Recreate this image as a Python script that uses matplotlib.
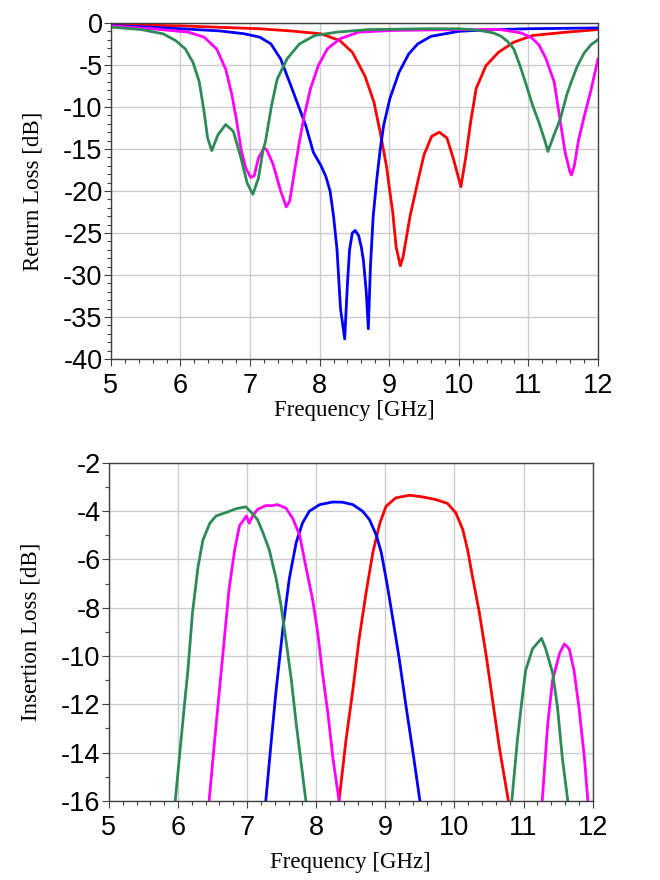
import matplotlib
matplotlib.use("Agg")
import matplotlib.pyplot as plt
from matplotlib.ticker import MultipleLocator

plt.rcParams["axes.unicode_minus"] = False

# ---- return loss (S11), dB ----
f11_green = [5.0, 5.44, 5.75, 5.93, 6.07, 6.18, 6.27, 6.34, 6.39, 6.45, 6.54, 6.65, 6.76, 6.87,
             6.96, 7.04, 7.12, 7.19, 7.22, 7.31, 7.39, 7.53, 7.71, 7.93, 8.25, 8.7, 9.5, 10.0,
             10.3, 10.5, 10.61, 10.7, 10.79, 10.88, 10.97, 11.06, 11.15, 11.24, 11.28, 11.37,
             11.46, 11.55, 11.6, 11.7, 11.8, 11.9, 12.0]
s11_green = [-0.5, -0.8, -1.3, -2.1, -3.1, -4.7, -7.0, -10.6, -13.7, -15.2, -13.3, -12.1, -12.9, -16.1,
             -19.1, -20.4, -18.5, -15.0, -14.2, -9.8, -6.7, -4.3, -2.5, -1.5, -1.1, -0.8, -0.7, -0.7,
             -0.9, -1.2, -1.6, -2.2, -3.1, -5.1, -7.4, -9.8, -11.8, -14.1, -15.3, -13.3,
             -11.4, -8.6, -7.4, -5.2, -3.6, -2.6, -2.0]

f11_magenta = [5.0, 5.66, 6.11, 6.34, 6.52, 6.65, 6.74, 6.81, 6.87, 6.94, 7.01, 7.06, 7.12, 7.2,
               7.24, 7.33, 7.44, 7.52, 7.57, 7.64, 7.71, 7.78, 7.87, 7.98, 8.11, 8.29, 8.56, 9.05,
               10.0, 10.6, 10.9, 11.05, 11.15, 11.25, 11.37, 11.46, 11.53, 11.6, 11.62, 11.66,
               11.72, 11.8, 11.9, 12.0]
s11_magenta = [-0.35, -0.75, -1.1, -1.7, -3.1, -5.5, -8.6, -11.8, -15.0, -17.3, -18.4, -18.2, -16.1, -14.9,
               -15.1, -16.8, -20.0, -21.9, -21.2, -17.6, -14.1, -11.0, -7.8, -5.1, -3.1, -1.9, -1.1, -0.9,
               -0.8, -0.8, -1.2, -1.8, -2.6, -4.2, -7.0, -11.8, -15.5, -17.8, -18.1, -17.0,
               -14.0, -11.2, -8.0, -4.3]

f11_blue = [5.0, 5.89, 6.56, 6.92, 7.14, 7.3, 7.44, 7.57, 7.71, 7.8, 7.91, 8.02, 8.09, 8.15, 8.2,
            8.25, 8.3, 8.36, 8.4, 8.43, 8.47, 8.51, 8.56, 8.6, 8.63, 8.67, 8.7, 8.73, 8.77, 8.82,
            8.87, 8.92, 9.01, 9.14, 9.28, 9.41, 9.6, 10.0, 10.5, 11.0, 12.0]
s11_blue = [-0.3, -0.65, -0.95, -1.3, -1.7, -2.5, -4.3, -7.1, -10.2, -12.2, -15.4, -17.0, -18.3, -20.0, -23.0,
            -27.0, -34.0, -37.6, -31.0, -27.0, -25.0, -24.7, -25.3, -26.7, -28.3, -32.0, -36.4, -29.0, -23.0, -18.7,
            -15.1, -12.2, -9.0, -5.9, -3.7, -2.5, -1.6, -1.0, -0.8, -0.7, -0.6]

f11_red = [5.0, 6.0, 7.13, 7.57, 8.02, 8.29, 8.47, 8.65, 8.78, 8.87, 8.96, 9.0, 9.05, 9.1, 9.16,
           9.2, 9.3, 9.41, 9.5, 9.61, 9.72, 9.83, 9.92, 10.03, 10.1, 10.17, 10.25, 10.39, 10.57,
           10.79, 11.06, 11.55, 12.0]
s11_red = [-0.2, -0.35, -0.7, -0.95, -1.3, -2.1, -3.5, -6.3, -9.4, -13.0, -17.0, -19.5, -22.5, -26.7, -28.9,
           -27.8, -23.0, -18.9, -15.7, -13.5, -13.0, -13.7, -16.1, -19.5, -16.0, -11.8, -7.8, -5.1, -3.5,
           -2.3, -1.5, -1.1, -0.8]

# ---- insertion loss (S21), dB ----
f21_green = [5.96, 6.02, 6.09, 6.14, 6.21, 6.29, 6.36, 6.46, 6.55, 6.7, 6.84, 6.98, 7.06, 7.15, 7.23,
             7.32, 7.42, 7.49, 7.56, 7.64, 7.71, 7.78, 7.85]
s21_green = [-16.0, -14.2, -12.1, -10.7, -8.2, -6.3, -5.2, -4.5, -4.2, -4.05, -3.9, -3.82, -4.05, -4.35, -4.9,
             -5.6, -6.8, -7.9, -9.3, -11.0, -12.8, -14.4, -16.0]
f21_green2 = [10.83, 10.91, 10.99, 11.03, 11.13, 11.26, 11.32, 11.42, 11.49, 11.56, 11.64]
s21_green2 = [-16.0, -13.5, -11.5, -10.6, -9.7, -9.27, -9.7, -10.7, -12.1, -14.2, -16.0]

f21_magenta = [6.45, 6.53, 6.6, 6.67, 6.74, 6.82, 6.89, 6.99, 7.03, 7.08, 7.15, 7.27, 7.37, 7.44, 7.56,
               7.66, 7.76, 7.85, 7.95, 8.02, 8.09, 8.17, 8.24, 8.33]
s21_magenta = [-16.0, -13.5, -11.4, -9.3, -7.2, -5.6, -4.6, -4.2, -4.5, -4.2, -3.93, -3.77, -3.77, -3.73, -3.87,
               -4.3, -5.0, -6.3, -7.7, -9.0, -10.7, -12.4, -14.2, -16.0]
f21_magenta2 = [11.27, 11.35, 11.42, 11.52, 11.59, 11.66, 11.73, 11.8, 11.88, 11.93]
s21_magenta2 = [-16.0, -12.8, -11.0, -9.9, -9.5, -9.7, -10.6, -12.1, -14.2, -16.0]

f21_blue = [7.27, 7.35, 7.42, 7.52, 7.61, 7.71, 7.8, 7.9, 8.05, 8.24, 8.38, 8.53, 8.67, 8.77, 8.87,
            8.94, 9.03, 9.11, 9.2, 9.3, 9.4, 9.5]
s21_blue = [-16.0, -13.5, -11.4, -8.8, -6.8, -5.3, -4.5, -4.0, -3.73, -3.62, -3.63, -3.73, -4.0, -4.35, -5.0,
            -5.7, -7.1, -8.5, -10.1, -12.1, -14.0, -16.0]

f21_red = [8.33, 8.43, 8.53, 8.62, 8.72, 8.82, 8.92, 9.01, 9.15, 9.35, 9.54, 9.73, 9.9, 10.02, 10.12,
           10.19, 10.26, 10.36, 10.46, 10.55, 10.65, 10.78]
s21_red = [-16.0, -13.5, -11.4, -9.3, -7.4, -5.7, -4.5, -3.8, -3.45, -3.34, -3.41, -3.52, -3.68, -4.07, -4.76,
           -5.6, -6.7, -8.2, -10.0, -11.8, -13.8, -16.0]

GREEN, MAGENTA, BLUE, RED = "#2e8a57", "#ff00ff", "#0000ff", "#ff0000"
LW = 2.0

fig = plt.figure(figsize=(6.6, 8.8), dpi=100)
ax1 = fig.add_axes([0.168, 0.592, 0.738, 0.382])
ax2 = fig.add_axes([0.165, 0.090, 0.733, 0.384])

ax1.plot(f11_red, s11_red, color=RED, lw=LW)
ax1.plot(f11_blue, s11_blue, color=BLUE, lw=LW)
ax1.plot(f11_magenta, s11_magenta, color=MAGENTA, lw=LW)
ax1.plot(f11_green, s11_green, color=GREEN, lw=LW)

ax2.plot(f21_red, s21_red, color=RED, lw=LW)
ax2.plot(f21_blue, s21_blue, color=BLUE, lw=LW)
ax2.plot(f21_magenta, s21_magenta, color=MAGENTA, lw=LW)
ax2.plot(f21_magenta2, s21_magenta2, color=MAGENTA, lw=LW)
ax2.plot(f21_green, s21_green, color=GREEN, lw=LW)
ax2.plot(f21_green2, s21_green2, color=GREEN, lw=LW)

ax1.set_ylim(-40, 0)
ax1.yaxis.set_major_locator(MultipleLocator(5))
ax1.yaxis.set_minor_locator(MultipleLocator(1))
ax2.set_ylim(-16, -2)
ax2.yaxis.set_major_locator(MultipleLocator(2))
ax2.yaxis.set_minor_locator(MultipleLocator(1))

for ax, lab, xpad in ((ax1, "Return Loss [dB]", 1), (ax2, "Insertion Loss [dB]", 8)):
    ax.set_xlim(5, 12)
    ax.xaxis.set_major_locator(MultipleLocator(1))
    ax.xaxis.set_minor_locator(MultipleLocator(0.2))
    ax.grid(True, which="major", color="#cccccc", lw=1.0)
    ax.set_axisbelow(True)
    for sp in ax.spines.values():
        sp.set_color("#404040")
        sp.set_linewidth(1.0)
    ax.tick_params(which="major", direction="out", length=5, width=0.8, color="#404040",
                   labelsize=19.5)
    ax.tick_params(axis="x", which="major", pad=5)
    ax.tick_params(axis="y", which="major", pad=1)
    ax.tick_params(which="minor", direction="out", length=3, width=0.8, color="#404040")
    for t in ax.get_xticklabels() + ax.get_yticklabels():
        t.set_fontfamily("Liberation Sans")
    ax.set_xlabel("Frequency [GHz]", fontfamily="Liberation Serif", fontsize=16.5, labelpad=xpad)
    ax.set_ylabel(lab, fontfamily="Liberation Serif", fontsize=16.5, labelpad=14)

fig.savefig("out.png", dpi=100)
